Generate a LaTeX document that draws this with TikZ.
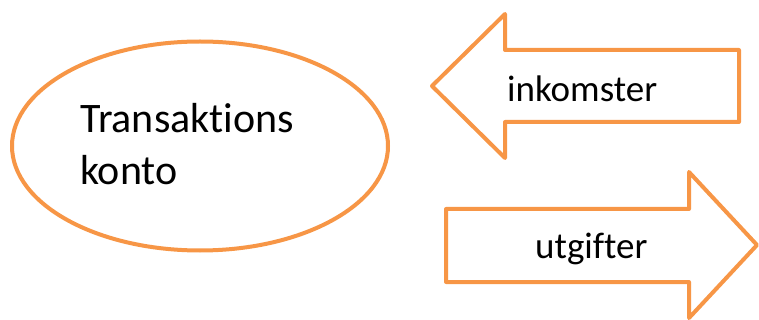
\documentclass[tikz,border=0pt]{standalone}
\usepackage{fontspec}
\setmainfont[Ligatures={NoCommon,NoRare,NoContextual}]{Carlito}
\usetikzlibrary{shapes.geometric}
\definecolor{acc}{HTML}{F79646}
\tikzset{
  outline/.style={draw=acc, line width=4pt, line join=round, fill=white},
  bigtxt/.style={font=\fontsize{42}{51}\selectfont, anchor=base west, inner sep=0pt},
  arrtxt/.style={font=\fontsize{37}{44}\selectfont, anchor=base west, inner sep=0pt}
}
\begin{document}
\begin{tikzpicture}[x=1pt,y=-1pt]
\useasboundingbox (0,0) rectangle (759,320);
% ellipse
\draw[outline] (200,146) ellipse [x radius=188, y radius=104.5];
\node[coordinate] (ell) at (200,146) {};
\node[bigtxt] (t1) at (80,133) {Transaktions};
\node[bigtxt] (t2) at (80,185) {konto};
% left arrow (inkomster)
\draw[outline] (432,86) -- (505,14) -- (505,50) -- (739,50) -- (739,122) -- (505,122) -- (505,158) -- cycle;
\node[arrtxt] (ink) at (507,102) {inkomster};
% right arrow (utgifter)
\draw[outline] (446,209) -- (689,209) -- (689,172) -- (757,245) -- (689,318) -- (689,282) -- (446,282) -- cycle;
\node[arrtxt] (utg) at (535,258) {utgifter};
\end{tikzpicture}
\end{document}
